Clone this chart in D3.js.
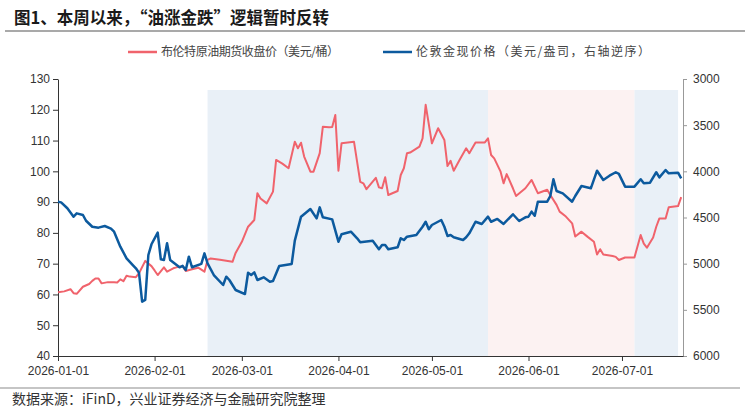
<!DOCTYPE html>
<html>
<head>
<meta charset="utf-8">
<script src="https://cdn.jsdelivr.net/npm/d3@7"></script>
<style>
body { margin: 0; background: #fff; }
svg text { font-family: "Liberation Sans", Arial, sans-serif; }
</style>
</head>
<body>
<div id="chart"></div>
<script>
// brent close, usd/bbl (left axis)
const oilDates = ["2026-01-01","2026-01-03","2026-01-05","2026-01-06","2026-01-07","2026-01-09","2026-01-11","2026-01-12","2026-01-13","2026-01-14",
  "2026-01-15","2026-01-17","2026-01-19","2026-01-20","2026-01-21","2026-01-22","2026-01-23","2026-01-24","2026-01-26","2026-01-27",
  "2026-01-29","2026-01-31","2026-02-01","2026-02-02","2026-02-04","2026-02-05","2026-02-07","2026-02-08","2026-02-10","2026-02-11",
  "2026-02-13","2026-02-15","2026-02-17","2026-02-18","2026-02-19","2026-02-22","2026-02-26","2026-02-27","2026-03-01","2026-03-03",
  "2026-03-05","2026-03-06","2026-03-07","2026-03-09","2026-03-11","2026-03-12","2026-03-14","2026-03-16","2026-03-18","2026-03-19",
  "2026-03-20","2026-03-21","2026-03-23","2026-03-24","2026-03-26","2026-03-27","2026-03-29","2026-03-30","2026-03-31","2026-04-01",
  "2026-04-02","2026-04-06","2026-04-08","2026-04-09","2026-04-10","2026-04-13","2026-04-14","2026-04-15","2026-04-16","2026-04-17",
  "2026-04-20","2026-04-21","2026-04-22","2026-04-23","2026-04-24","2026-04-27","2026-04-28","2026-04-29","2026-05-01","2026-05-03",
  "2026-05-05","2026-05-06","2026-05-07","2026-05-08","2026-05-10","2026-05-12","2026-05-13","2026-05-15","2026-05-18","2026-05-19",
  "2026-05-20","2026-05-21","2026-05-23","2026-05-24","2026-05-25","2026-05-27","2026-05-28","2026-05-31","2026-06-02","2026-06-04",
  "2026-06-07","2026-06-08","2026-06-10","2026-06-11","2026-06-13","2026-06-15","2026-06-16","2026-06-18","2026-06-20","2026-06-22",
  "2026-06-23","2026-06-24","2026-06-25","2026-06-28","2026-06-29","2026-06-30","2026-07-02","2026-07-05","2026-07-07","2026-07-08",
  "2026-07-09","2026-07-11","2026-07-12","2026-07-13","2026-07-15","2026-07-16","2026-07-19","2026-07-20"];
const oilValues = [60.7,61.0,61.7,60.4,60.2,62.5,63.4,64.4,65.2,65.2,
  63.6,64.0,64.0,63.9,64.9,64.3,66.1,65.8,65.6,66.9,
  70.9,69.2,67.8,66.3,68.8,67.4,68.5,68.8,69.2,67.6,
  68.2,68.7,67.4,71.2,71.7,71.3,70.6,73.5,77.1,82.0,
  84.2,92.9,91.2,89.6,93.4,103.7,102.5,101.0,109.6,107.5,
  109.3,104.8,99.9,99.9,105.9,114.5,114.3,114.4,118.3,100.2,
  109.1,109.6,96.6,96.1,94.2,97.9,94.8,94.5,98.1,92.3,
  93.6,98.8,101.0,105.9,106.1,108.0,110.7,121.6,109.1,114.0,
  110.2,101.7,103.4,100.2,103.9,107.5,105.9,109.4,109.4,110.7,
  105.3,104.2,100.0,96.1,99.1,94.5,92.0,94.5,97.2,92.9,
  94.0,92.3,89.1,86.9,85.3,83.1,78.8,80.4,78.7,77.1,
  73.0,74.7,73.0,72.5,72.2,71.2,72.0,72.0,79.3,76.5,
  75.2,78.5,82.0,84.7,84.7,88.3,88.7,91.6];

// london spot gold, usd/oz (right axis, reversed)
const goldDates = ["2026-01-01","2026-01-02","2026-01-04","2026-01-06","2026-01-07","2026-01-09","2026-01-10","2026-01-12","2026-01-14","2026-01-16",
  "2026-01-18","2026-01-19","2026-01-21","2026-01-23","2026-01-25","2026-01-26","2026-01-27","2026-01-28","2026-01-29","2026-01-30",
  "2026-01-31","2026-02-02","2026-02-03","2026-02-04","2026-02-05","2026-02-06","2026-02-09","2026-02-10","2026-02-11","2026-02-12",
  "2026-02-13","2026-02-16","2026-02-17","2026-02-18","2026-02-20","2026-02-23","2026-02-24","2026-02-25","2026-02-27","2026-03-02",
  "2026-03-03","2026-03-04","2026-03-05","2026-03-06","2026-03-08","2026-03-10","2026-03-11","2026-03-13","2026-03-17","2026-03-18",
  "2026-03-20","2026-03-23","2026-03-25","2026-03-26","2026-03-27","2026-03-30","2026-04-01","2026-04-02","2026-04-05","2026-04-07",
  "2026-04-08","2026-04-12","2026-04-14","2026-04-15","2026-04-16","2026-04-17","2026-04-20","2026-04-21","2026-04-22","2026-04-23",
  "2026-04-26","2026-04-28","2026-04-29","2026-04-30","2026-05-01","2026-05-04","2026-05-05","2026-05-06","2026-05-07","2026-05-08",
  "2026-05-11","2026-05-12","2026-05-13","2026-05-15","2026-05-17","2026-05-19","2026-05-20","2026-05-22","2026-05-24","2026-05-27",
  "2026-05-29","2026-05-31","2026-06-01","2026-06-02","2026-06-03","2026-06-04","2026-06-07","2026-06-08","2026-06-09","2026-06-10",
  "2026-06-12","2026-06-15","2026-06-16","2026-06-18","2026-06-21","2026-06-23","2026-06-25","2026-06-27","2026-06-29","2026-06-30",
  "2026-07-02","2026-07-05","2026-07-07","2026-07-08","2026-07-10","2026-07-12","2026-07-13","2026-07-15","2026-07-16","2026-07-19",
  "2026-07-20"];
const goldValues = [4329,4336,4400,4491,4455,4473,4535,4600,4610,4592,
  4620,4654,4816,4942,5015,5050,5100,5412,5393,4906,
  4790,4664,4953,4960,4780,4960,5039,5024,5069,4924,
  5039,5003,4888,4996,5123,5231,5141,5177,5285,5329,
  5098,5123,5094,5177,5148,5195,5188,5025,5003,4750,
  4491,4408,4509,4390,4498,4520,4762,4682,4654,4725,
  4769,4751,4844,4798,4798,4844,4823,4725,4744,4708,
  4690,4600,4546,4628,4581,4527,4600,4700,4690,4714,
  4744,4714,4671,4546,4570,4491,4546,4516,4570,4465,
  4538,4498,4491,4437,4480,4329,4329,4267,4086,4213,
  4238,4329,4267,4159,4184,3993,4094,4047,4010,4028,
  4166,4166,4086,4130,4123,4010,4065,3986,4022,4015,
  4076];

const leftTicks = [40, 50, 60, 70, 80, 90, 100, 110, 120, 130];
const rightTicks = [3000, 3500, 4000, 4500, 5000, 5500, 6000];
const monthTicks = ["2026-01-01","2026-02-01","2026-03-01","2026-04-01","2026-05-01","2026-06-01","2026-07-01"];
// background periods
const shadeStarts = ["2026-02-18","2026-05-19","2026-07-05"];
const shadeEnds = ["2026-05-19","2026-07-05","2026-07-19"];
const shadeColors = ["#e9f0f7","#fcf2f2","#e9f0f7"];

const width = 745;
const height = 410;
const plotLeft = 58;
const plotRight = 683;
const plotTop = 79;
const plotBottom = 356;
const oilColor = "#f0636c";
const goldColor = "#0c5a9e";

const parse = d3.timeParse("%Y-%m-%d");

var svg = d3.select("#chart")
  .append("svg")
    .attr("width", width)
    .attr("height", height);

var x = d3.scaleTime([parse("2026-01-01"), new Date(2026, 6, 20, 14)], [plotLeft, plotRight]);
var yLeft = d3.scaleLinear([40, 130], [plotBottom, plotTop]);
var yRight = d3.scaleLinear([3000, 6000], [plotTop, plotBottom]);

// title + rule
svg.append("text")
  .attr("x", 14)
  .attr("y", 24)
  .style("font-family", "'Noto Sans CJK SC', sans-serif")
  .style("font-weight", "bold")
  .style("font-size", "16.5px")
  .attr("fill", "#1a1a1a")
  .text("图1、本周以来，“油涨金跌”逻辑暂时反转");
svg.append("line")
  .attr("x1", 5).attr("x2", width)
  .attr("y1", 31).attr("y2", 31)
  .attr("stroke", "#8c8c8c")
  .attr("stroke-width", 1.5);

// shaded periods
svg.selectAll("rect.shade")
  .data(shadeStarts.map((s, i) => ({ start: parse(s), end: parse(shadeEnds[i]), color: shadeColors[i] })))
  .join("rect")
    .attr("class", "shade")
    .attr("x", d => x(d.start))
    .attr("width", d => x(d.end) - x(d.start))
    .attr("y", 90)
    .attr("height", plotBottom - 90)
    .attr("fill", d => d.color);

// left axis
var gLeft = svg.append("g")
  .attr("transform", `translate(${plotLeft},0)`)
  .call(d3.axisLeft(yLeft).tickValues(leftTicks).tickSize(5).tickSizeOuter(0).tickPadding(3));
gLeft.select(".domain").attr("stroke", "#333");
gLeft.selectAll(".tick line").attr("stroke", "#333");

// right axis, no thousands separator
var gRight = svg.append("g")
  .attr("transform", `translate(${plotRight},0)`)
  .call(d3.axisRight(yRight).tickValues(rightTicks).tickFormat(d3.format("d"))
    .tickSize(4).tickSizeOuter(0).tickPadding(6));
gRight.select(".domain").attr("stroke", "#999");
gRight.selectAll(".tick line").attr("stroke", "#999");

// bottom axis
var gBottom = svg.append("g")
  .attr("transform", `translate(0,${plotBottom})`)
  .call(d3.axisBottom(x).tickValues(monthTicks.map(parse)).tickFormat(d3.timeFormat("%Y-%m-%d"))
    .tickSize(5).tickSizeOuter(0).tickPadding(5));
gBottom.select(".domain").attr("stroke", "#333");
gBottom.selectAll(".tick line").attr("stroke", "#333");

svg.selectAll(".tick text")
  .attr("fill", "#333")
  .style("font-size", "12px")
  .style("font-family", "'Liberation Sans', Arial, sans-serif");

// lines
var oilLine = d3.line()
  .x((d, i) => x(parse(oilDates[i])))
  .y(d => yLeft(d));
var goldLine = d3.line()
  .x((d, i) => x(parse(goldDates[i])))
  .y(d => yRight(d));

svg.append("path")
  .datum(oilValues)
  .attr("fill", "none")
  .attr("stroke", oilColor)
  .attr("stroke-width", 2)
  .attr("stroke-linejoin", "round")
  .attr("d", oilLine);

svg.append("path")
  .datum(goldValues)
  .attr("fill", "none")
  .attr("stroke", goldColor)
  .attr("stroke-width", 2.5)
  .attr("stroke-linejoin", "round")
  .attr("d", goldLine);

// legend
var legend = [
  { label: "布伦特原油期货收盘价（美元/桶）", color: oilColor, x: 128, len: 178 },
  { label: "伦敦金现价格（美元/盎司，右轴逆序）", color: goldColor, x: 383, len: 234 }
];
legend.forEach(l => {
  svg.append("line")
    .attr("x1", l.x).attr("x2", l.x + 29)
    .attr("y1", 52).attr("y2", 52)
    .attr("stroke", l.color)
    .attr("stroke-width", 2.5);
  svg.append("text")
    .attr("x", l.x + 33)
    .attr("y", 56)
    .attr("textLength", l.len)
    .attr("lengthAdjust", "spacing")
    .style("font-family", "'Noto Sans CJK SC', sans-serif")
    .style("font-size", "12px")
    .attr("fill", "#444")
    .text(l.label);
});

// footer
svg.append("line")
  .attr("x1", 0).attr("x2", 740)
  .attr("y1", 388).attr("y2", 388)
  .attr("stroke", "#8c8c8c")
  .attr("stroke-width", 1.2);
svg.append("text")
  .attr("x", 12)
  .attr("y", 404)
  .style("font-family", "'Noto Sans CJK SC', sans-serif")
  .style("font-size", "14px")
  .attr("fill", "#333")
  .text("数据来源：iFinD，兴业证券经济与金融研究院整理");
</script>
</body>
</html>
